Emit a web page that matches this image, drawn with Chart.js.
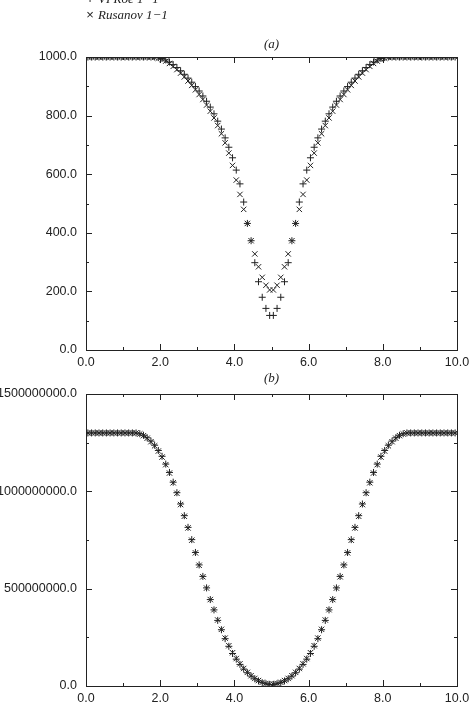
<!DOCTYPE html>
<html>
<head>
<meta charset="utf-8">
<script src="https://cdn.jsdelivr.net/npm/chart.js@4.4.0/dist/chart.umd.min.js"></script>
<style>
  html, body { margin: 0; padding: 0; background: #fff; overflow: hidden; }
  #wrap { position: relative; width: 469px; height: 717px; }
  canvas { position: absolute; left: 0; }
  #chartA { top: 0; }
  #chartB { top: 368px; }
</style>
</head>
<body>
<div id="wrap">
  <canvas id="chartA" width="469" height="372"></canvas>
  <canvas id="chartB" width="469" height="349"></canvas>
</div>
<script>
// cell centres
const xs = [
  0.05, 0.15, 0.25, 0.35, 0.45, 0.55, 0.65, 0.75, 0.85, 0.95,
  1.05, 1.15, 1.25, 1.35, 1.45, 1.55, 1.65, 1.75, 1.85, 1.95,
  2.05, 2.15, 2.25, 2.35, 2.45, 2.55, 2.65, 2.75, 2.85, 2.95,
  3.05, 3.15, 3.25, 3.35, 3.45, 3.55, 3.65, 3.75, 3.85, 3.95,
  4.05, 4.15, 4.25, 4.35, 4.45, 4.55, 4.65, 4.75, 4.85, 4.95,
  5.05, 5.15, 5.25, 5.35, 5.45, 5.55, 5.65, 5.75, 5.85, 5.95,
  6.05, 6.15, 6.25, 6.35, 6.45, 6.55, 6.65, 6.75, 6.85, 6.95,
  7.05, 7.15, 7.25, 7.35, 7.45, 7.55, 7.65, 7.75, 7.85, 7.95,
  8.05, 8.15, 8.25, 8.35, 8.45, 8.55, 8.65, 8.75, 8.85, 8.95,
  9.05, 9.15, 9.25, 9.35, 9.45, 9.55, 9.65, 9.75, 9.85, 9.95
];

// (a) density
const densityRoe = [
  1000, 1000, 1000, 1000, 1000, 1000, 1000, 1000, 1000, 1000,
  1000, 1000, 1000, 1000, 1000, 1000, 1000, 1000, 1000, 998,
  995, 990, 983, 974, 964, 953, 941, 928, 914, 899,
  884, 867, 849, 829, 806, 781, 754, 724, 692, 656,
  614, 567, 505, 432, 373, 298, 233, 180, 142, 118,
  118, 142, 180, 233, 298, 373, 432, 505, 567, 614,
  656, 692, 724, 754, 781, 806, 829, 849, 867, 884,
  899, 914, 928, 941, 953, 964, 974, 983, 990, 995,
  998, 1000, 1000, 1000, 1000, 1000, 1000, 1000, 1000, 1000,
  1000, 1000, 1000, 1000, 1000, 1000, 1000, 1000, 1000, 1000
];
const densityRusanov = [
  1000, 1000, 1000, 1000, 1000, 1000, 1000, 1000, 1000, 1000,
  1000, 1000, 1000, 1000, 1000, 1000, 1000, 1000, 999, 996,
  992, 986, 978, 968, 957, 945, 932, 918, 903, 888,
  872, 855, 836, 815, 792, 766, 738, 707, 672, 630,
  580, 531, 480, 432, 373, 328, 284, 248, 221, 205,
  205, 221, 248, 284, 328, 373, 432, 480, 531, 580,
  630, 672, 707, 738, 766, 792, 815, 836, 855, 872,
  888, 903, 918, 932, 945, 957, 968, 978, 986, 992,
  996, 999, 1000, 1000, 1000, 1000, 1000, 1000, 1000, 1000,
  1000, 1000, 1000, 1000, 1000, 1000, 1000, 1000, 1000, 1000
];

// (b) pressure
const pressureRoe = [
  1.3e9, 1.3e9, 1.3e9, 1.3e9, 1.3e9, 1.3e9, 1.3e9, 1.3e9, 1.3e9, 1.3e9,
  1.3e9, 1.3e9, 1.3e9, 1.3e9, 1.296e9, 1.288e9, 1.275e9, 1.258e9, 1.237e9, 1.21e9,
  1.18e9, 1.14e9, 1.097e9, 1.047e9, 0.993e9, 0.935e9, 0.875e9, 0.815e9, 0.752e9, 0.686e9,
  0.622e9, 0.563e9, 0.504e9, 0.444e9, 0.391e9, 0.337e9, 0.289e9, 0.243e9, 0.204e9, 0.167e9,
  0.138e9, 0.111e9, 0.087e9, 0.068e9, 0.051e9, 0.037e9, 0.026e9, 0.017e9, 0.012e9, 0.008e9,
  0.008e9, 0.012e9, 0.017e9, 0.026e9, 0.037e9, 0.051e9, 0.068e9, 0.087e9, 0.111e9, 0.138e9,
  0.167e9, 0.204e9, 0.243e9, 0.289e9, 0.337e9, 0.391e9, 0.444e9, 0.504e9, 0.563e9, 0.622e9,
  0.686e9, 0.752e9, 0.815e9, 0.875e9, 0.935e9, 0.993e9, 1.047e9, 1.097e9, 1.14e9, 1.18e9,
  1.21e9, 1.237e9, 1.258e9, 1.275e9, 1.288e9, 1.296e9, 1.3e9, 1.3e9, 1.3e9, 1.3e9,
  1.3e9, 1.3e9, 1.3e9, 1.3e9, 1.3e9, 1.3e9, 1.3e9, 1.3e9, 1.3e9, 1.3e9
];
const pressureRusanov = [
  1.3e9, 1.3e9, 1.3e9, 1.3e9, 1.3e9, 1.3e9, 1.3e9, 1.3e9, 1.3e9, 1.3e9,
  1.3e9, 1.3e9, 1.3e9, 1.3e9, 1.295e9, 1.286e9, 1.273e9, 1.255e9, 1.234e9, 1.207e9,
  1.176e9, 1.137e9, 1.094e9, 1.044e9, 0.99e9, 0.932e9, 0.872e9, 0.812e9, 0.749e9, 0.684e9,
  0.62e9, 0.561e9, 0.503e9, 0.444e9, 0.392e9, 0.339e9, 0.291e9, 0.246e9, 0.207e9, 0.171e9,
  0.141e9, 0.114e9, 0.09e9, 0.07e9, 0.053e9, 0.039e9, 0.028e9, 0.019e9, 0.013e9, 0.01e9,
  0.01e9, 0.013e9, 0.019e9, 0.028e9, 0.039e9, 0.053e9, 0.07e9, 0.09e9, 0.114e9, 0.141e9,
  0.171e9, 0.207e9, 0.246e9, 0.291e9, 0.339e9, 0.392e9, 0.444e9, 0.503e9, 0.561e9, 0.62e9,
  0.684e9, 0.749e9, 0.812e9, 0.872e9, 0.932e9, 0.99e9, 1.044e9, 1.094e9, 1.137e9, 1.176e9,
  1.207e9, 1.234e9, 1.255e9, 1.273e9, 1.286e9, 1.295e9, 1.3e9, 1.3e9, 1.3e9, 1.3e9,
  1.3e9, 1.3e9, 1.3e9, 1.3e9, 1.3e9, 1.3e9, 1.3e9, 1.3e9, 1.3e9, 1.3e9
];

const seriesNames = ['VI Roe 1\u22121', 'Rusanov 1\u22121'];

const INK = '#222';
const tickFont = { family: '"Liberation Sans", Arial, sans-serif', size: 12.5 };
const serifItalic = 'italic 13px "Liberation Serif", "Times New Roman", serif';

const toPoints = (vals) => vals.map((v, i) => ({ x: xs[i], y: v }));

// frame with inward ticks on all four sides + titles/legend
const frameTicks = {
  id: 'frameTicks',
  beforeDatasetsDraw(chart, args, opts) {
    const { ctx, chartArea: a, scales: { x, y } } = chart;
    ctx.save();
    ctx.strokeStyle = INK;
    ctx.lineWidth = 1;
    ctx.strokeRect(Math.round(a.left) + 0.5, Math.round(a.top) + 0.5,
      Math.round(a.right - a.left), Math.round(a.bottom - a.top));
    ctx.beginPath();
    for (let k = 0; k * opts.xMinor <= x.max + 1e-9; k++) {
      const len = k % 2 === 0 ? 6 : 3;
      const px = Math.round(x.getPixelForValue(k * opts.xMinor)) + 0.5;
      ctx.moveTo(px, a.bottom); ctx.lineTo(px, a.bottom - len);
      ctx.moveTo(px, a.top); ctx.lineTo(px, a.top + len);
    }
    for (let k = 0; k * opts.yMinor <= y.max * (1 + 1e-9); k++) {
      const len = k % 2 === 0 ? 6 : 3;
      const py = Math.round(y.getPixelForValue(k * opts.yMinor)) + 0.5;
      ctx.moveTo(a.left, py); ctx.lineTo(a.left + len, py);
      ctx.moveTo(a.right, py); ctx.lineTo(a.right - len, py);
    }
    ctx.stroke();
    ctx.restore();
  },
  afterDraw(chart, args, opts) {
    const { ctx, chartArea: a } = chart;
    ctx.save();
    ctx.fillStyle = INK;
    ctx.font = serifItalic;
    ctx.textAlign = 'center';
    ctx.textBaseline = 'alphabetic';
    ctx.fillText(opts.title, (a.left + a.right) / 2, opts.titleY);
    if (opts.legend) {
      const marks = ['+', '\u00d7'];
      opts.legend.forEach((name, i) => {
        const by = 3 + i * 15.5;
        ctx.font = '13px "Liberation Sans", Arial, sans-serif';
        ctx.textAlign = 'center';
        ctx.fillText(marks[i], 90, by);
        ctx.font = serifItalic;
        ctx.textAlign = 'left';
        ctx.fillText(name, 98, by);
      });
    }
    ctx.restore();
  }
};

function makeChart(id, roe, rus, yMax, yStep, yMinor, padTop, xHeight, title, titleY, legend) {
  const canvas = document.getElementById(id);
  return new Chart(canvas.getContext('2d'), {
    type: 'scatter',
    data: {
      datasets: [{
        label: seriesNames[0],
        data: toPoints(roe),
        pointStyle: 'cross',
        pointRadius: 3.5,
        borderColor: '#222',
        backgroundColor: '#222',
        pointBorderWidth: 1
      }, {
        label: seriesNames[1],
        data: toPoints(rus),
        pointStyle: 'crossRot',
        pointRadius: 3.8,
        borderColor: '#222',
        backgroundColor: '#222',
        pointBorderWidth: 1
      }]
    },
    options: {
      responsive: false,
      animation: false,
      devicePixelRatio: 1,
      layout: { padding: { top: padTop, right: 12, bottom: 0, left: 0 } },
      plugins: {
        legend: { display: false },
        tooltip: { enabled: false },
        frameTicks: { xMinor: 1, yMinor: yMinor, title: title, titleY: titleY, legend: legend }
      },
      scales: {
        x: {
          type: 'linear', min: 0, max: 10,
          grid: { display: false, drawTicks: false },
          border: { display: false },
          ticks: {
            stepSize: 2, color: INK, font: tickFont, padding: 5, maxRotation: 0,
            callback: (v) => v.toFixed(1)
          },
          afterFit: (s) => { s.height = xHeight; s.paddingLeft = 0; s.paddingRight = 0; }
        },
        y: {
          type: 'linear', min: 0, max: yMax,
          grid: { display: false, drawTicks: false },
          border: { display: false },
          ticks: {
            stepSize: yStep, color: INK, font: tickFont, padding: 9,
            callback: (v) => v.toFixed(1)
          },
          afterFit: (s) => { s.width = 86; s.paddingTop = 0; s.paddingBottom = 0; }
        }
      }
    },
    plugins: [frameTicks]
  });
}

makeChart('chartA', densityRoe, densityRusanov, 1000, 200, 100, 57, 22, '(a)', 48, seriesNames);
makeChart('chartB', pressureRoe, pressureRusanov, 1.5e9, 5e8, 2.5e8, 26, 31, '(b)', 14, null);
</script>
</body>
</html>
